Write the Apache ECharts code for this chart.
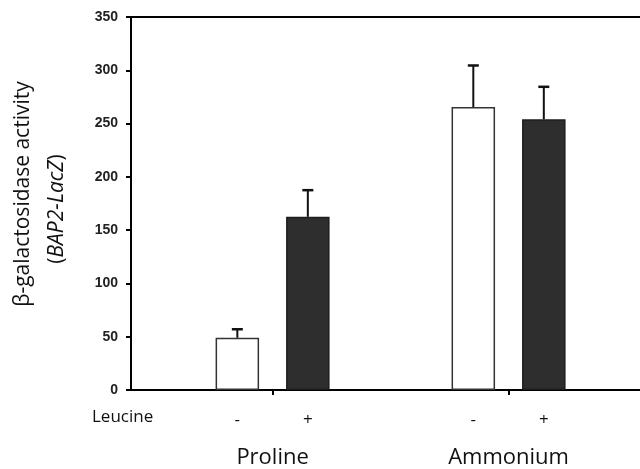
<!DOCTYPE html>
<html><head><meta charset="utf-8">
<script src="https://cdn.jsdelivr.net/npm/echarts@6/dist/echarts.min.js"></script>
<style>html,body{margin:0;padding:0;background:#fff}#c{width:640px;height:469px}</style>
</head><body><div id="c"></div>
<script>
// ---- data ----
const groups = ['Proline', 'Ammonium'];
const groupPos = [1, 2];
const leucineLabels = ['-', '+'];
const minusMean = [49, 265.5];
const minusErr = [8, 39];
const plusMean = [162.5, 254];
const plusErr = [25, 30.5];
const yTicks = [0, 50, 100, 150, 200, 250, 300, 350];

// ---- styling constants ----
const BAR_W = 43.5;
const GAP = 27;
const OFF = (BAR_W + GAP) / 2;
const FONT = '"Open Sans", "Noto Sans", sans-serif';

function errSeries(mean, err, dx) {
  return {
    type: 'custom', z: 5, clip: false,
    data: groupPos.map((g, i) => [g, mean[i], err[i]]),
    renderItem(params, api) {
      const base = api.coord([api.value(0), api.value(1)]);
      const top = api.coord([api.value(0), api.value(1) + api.value(2)]);
      const cx = base[0] + dx;
      return {
        type: 'group', children: [
          { type: 'line', shape: { x1: cx, y1: base[1], x2: cx, y2: top[1] }, style: { stroke: '#111', lineWidth: 2 } },
          { type: 'line', shape: { x1: cx - 5.5, y1: top[1], x2: cx + 5.5, y2: top[1] }, style: { stroke: '#111', lineWidth: 2.5 } }
        ]
      };
    }
  };
}

function barSeries(mean, fill, border, label) {
  return {
    type: 'bar', z: 3,
    data: groupPos.map((g, i) => [g, mean[i]]),
    barWidth: BAR_W,
    barGap: (GAP / BAR_W * 100) + '%',
    itemStyle: { color: fill, borderColor: border, borderWidth: 1.5 },
    label: { show: true, position: 'bottom', distance: 22, formatter: label, fontSize: 17, fontFamily: FONT, color: '#111' },
    emphasis: { disabled: true }
  };
}

const chart = echarts.init(document.getElementById('c'), null, { renderer: 'canvas' });
chart.setOption({
  animation: false,
  backgroundColor: '#fff',
  grid: { left: 131, right: 0, top: 17, bottom: 78, containLabel: false },
  xAxis: [{
    type: 'value', min: 0.4, max: 2.557,
    axisLine: { show: true, onZero: false, lineStyle: { color: '#000', width: 2 } },
    axisTick: { show: true, customValues: groupPos, length: 5, lineStyle: { color: '#000', width: 2 } },
    axisLabel: { customValues: groupPos, formatter: v => groups[groupPos.indexOf(v)], margin: 57, fontSize: 22, fontFamily: FONT, color: '#111' },
    splitLine: { show: false }
  }, {
    type: 'value', position: 'top', min: 0.4, max: 2.557,
    axisLine: { show: true, onZero: false, lineStyle: { color: '#000', width: 2 } },
    axisTick: { show: false }, axisLabel: { show: false }, splitLine: { show: false }
  }],
  yAxis: {
    type: 'value', min: 0, max: 350, interval: 50,
    axisLine: { show: true, onZero: false, lineStyle: { color: '#000', width: 2 } },
    axisTick: { show: true, customValues: yTicks, length: 5, lineStyle: { color: '#000', width: 2 } },
    axisLabel: { customValues: yTicks, margin: 13, fontSize: 14, fontWeight: 'bold', fontFamily: '"Liberation Sans", Arial, sans-serif', color: '#222' },
    splitLine: { show: false }
  },
  graphic: [
    { type: 'text', x: 23, y: 194, rotation: Math.PI / 2,
      style: { text: 'β-galactosidase activity', fontSize: 21, fontFamily: FONT, fill: '#111', align: 'center', verticalAlign: 'middle' } },
    { type: 'text', x: 57, y: 209, rotation: Math.PI / 2,
      style: { text: '{n|(}{i|BAP2-LacZ}{n|)}', fontSize: 21, fontFamily: FONT, fill: '#111', align: 'center', verticalAlign: 'middle',
        rich: { n: { fontSize: 21, fontFamily: FONT, fill: '#111' }, i: { fontSize: 21, fontFamily: FONT, fontStyle: 'italic', fill: '#111' } } } },
    { type: 'text', x: 92, y: 417,
      style: { text: 'Leucine', fontSize: 17, fontFamily: FONT, fill: '#111', align: 'left', verticalAlign: 'middle' } }
  ],
  series: [
    barSeries(minusMean, '#ffffff', '#333333', leucineLabels[0]),
    barSeries(plusMean, '#2e2e2e', '#1e1e1e', leucineLabels[1]),
    errSeries(minusMean, minusErr, -OFF),
    errSeries(plusMean, plusErr, OFF)
  ]
});
</script>
</body></html>
